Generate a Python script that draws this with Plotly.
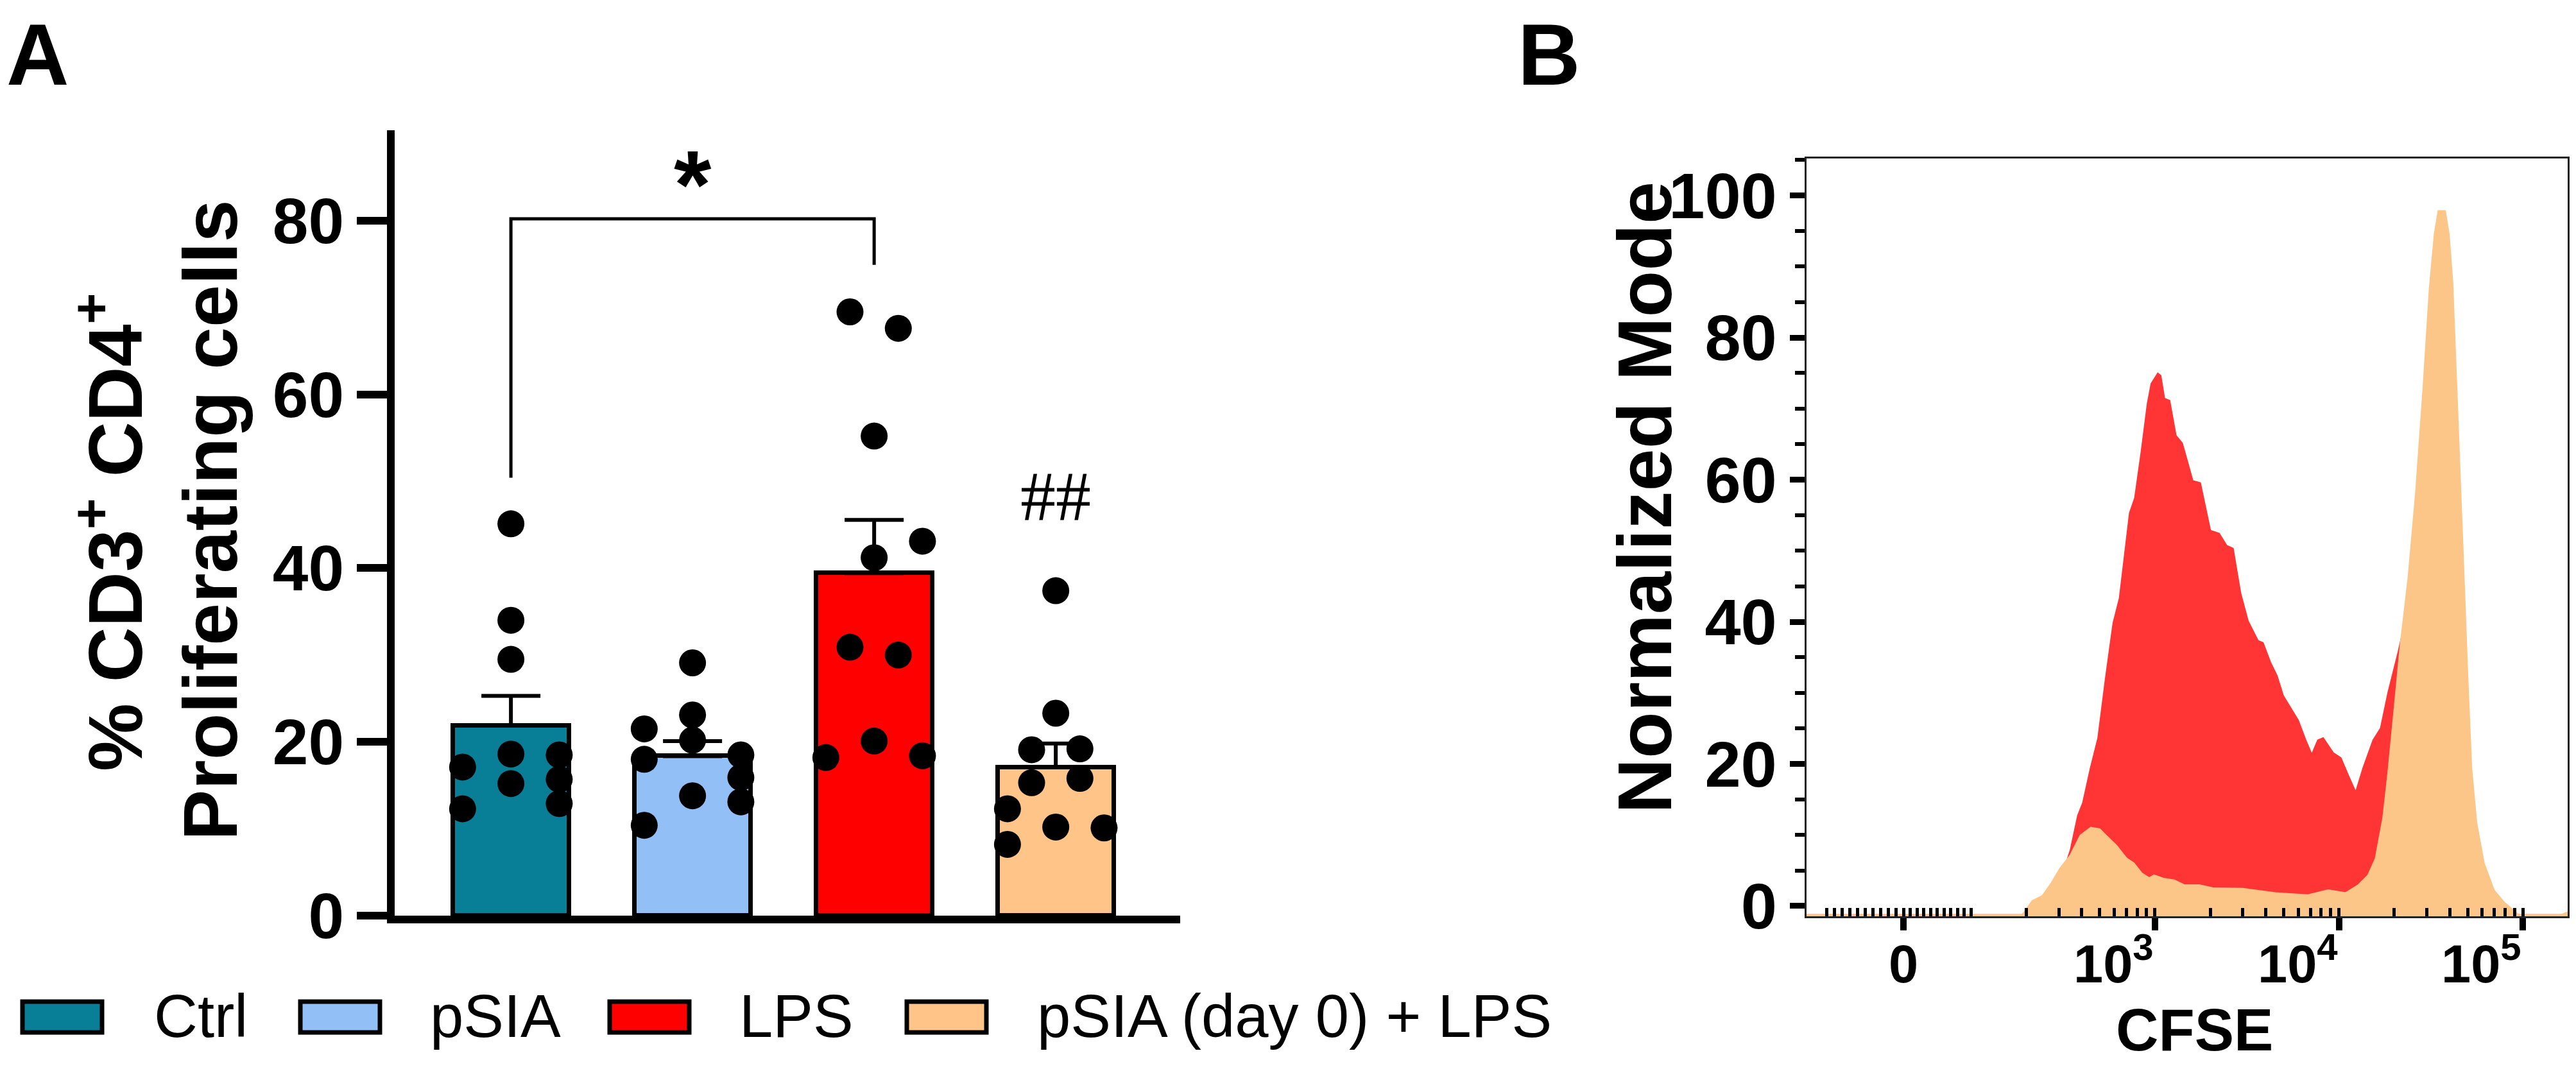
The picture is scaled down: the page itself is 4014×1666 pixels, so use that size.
import numpy as np
import plotly.graph_objects as go

# ---------------- panel A data (% CD3+ CD4+ proliferating cells) ----------------
CATEGORIES = ["Ctrl", "pSIA", "LPS", "pSIA (day 0) + LPS"]
BAR_COLORS = ["#087F96", "#93BFF7", "#FF0000", "#FEC488"]

ctrl = [45.1, 34.0, 29.5, 18.6, 15.2, 17.1, 12.3, 18.5, 15.7, 12.9]
psia = [29.1, 23.1, 20.2, 21.5, 18.0, 18.5, 15.9, 13.1, 13.8, 10.4]
lps = [69.5, 67.6, 55.2, 43.1, 41.2, 30.9, 30.0, 20.1, 18.2, 18.4]
psia_lps = [37.4, 23.3, 19.1, 19.2, 15.3, 15.8, 12.3, 10.2, 10.1, 8.2]
GROUPS = [ctrl, psia, lps, psia_lps]

# horizontal spread slot of every dot (prism style scatter), in steps of JIT_STEP
JITTER = [
    [0, 0, 0, 0, 0, -2, -2, 2, 2, 2],
    [0, 0, 0, -2, -2, 2, 2, 2, 0, -2],
    [-1, 1, 0, 2, 0, -1, 1, 0, -2, 2],
    [0, 0, -1, 1, -1, 1, -2, 0, 2, -2],
]
JIT_STEP = 0.133

Y_TICKS_A = [0, 20, 40, 60, 80]
BRACKET_X = [0, 0, 2, 2]          # Ctrl vs LPS
BRACKET_Y = [50.4, 80.2, 80.2, 74.9]
STAR_Y = 86.4
HASH_Y = 48.2

# ---------------- panel B data (CFSE histograms, normalized mode) ----------------
cfse_lps = [-150, 245, 297, 348, 382, 407, 448, 492, 541, 595, 644, 687, 731, 780,
            844, 914, 958, 1037, 1071, 1122, 1197, 1295, 1402, 1600, 1758, 1995,
            2227, 2446, 2648, 2909, 3193, 3622, 3855, 4238, 4584, 4958, 5446, 5986,
            6579, 7116, 7698, 8197, 9296, 10212, 11228, 12343, 13571, 15377, 16905,
            18551, 21027, 23496, 25500, 28000, 33000, 40000, 250000]
mode_lps = [-1.3, -1.3, 2.5, 7.8, 12.7, 14.5, 19.4, 23.6, 32.0, 39.8, 43.3, 49.6, 55.3,
            57.4, 63.7, 70.7, 73.5, 74.9, 74.6, 71.4, 71.1, 66.2, 65.1, 59.8, 59.5,
            52.8, 52.4, 50.7, 50.3, 44.0, 40.1, 37.3, 37.0, 34.2, 32.4, 29.6, 27.8,
            26.1, 23.3, 21.2, 23.3, 23.6, 21.5, 20.8, 18.3, 15.9, 19.4, 23.3, 25.0,
            30.0, 35.6, 41.2, 44.0, 30.0, 8.0, -1.3, -1.3]

cfse_combo = [-150, 190, 216, 245, 274, 306, 347, 394, 448, 500, 541, 615, 698, 767,
              844, 929, 989, 1122, 1274, 1447, 1749, 2056, 3000, 4508, 6792, 8730,
              10864, 12735, 14430, 15860, 17420, 18550, 20070, 21710, 23870, 26240,
              28790, 31170, 33180, 34780, 37660, 39470, 41340, 43350, 45420, 47620,
              49900, 52360, 55720, 61230, 69390, 78700, 95060, 160000, 180000, 250000]
mode_combo = [-1.3, -1.3, 0.7, 1.4, 3.2, 5.3, 7.1, 9.9, 11.0, 10.8, 9.9, 8.5, 6.7, 6.0,
              4.6, 3.9, 4.3, 3.8, 3.6, 2.9, 2.9, 2.5, 2.4, 1.8, 1.5, 2.2, 1.8, 2.9,
              4.3, 6.7, 12.4, 18.7, 27.8, 37.0, 46.1, 58.1, 72.8, 86.9, 94.6, 97.8,
              97.8, 94.6, 87.6, 74.2, 60.2, 46.1, 32.0, 19.4, 11.7, 6.0, 2.2, 0.5,
              -1.3, -1.3, -0.8, -0.8]

CFSE_LIMITS = [-125, 175000]
Y_RANGE_B = [-1.45, 105.2]
Y_TICKS_B = [0, 20, 40, 60, 80, 100]

# tick layout of the CFSE axis
LABELLED = [0, 1e3, 1e4, 1e5]
LABELS = ["0", "10<sup>3</sup>", "10<sup>4</sup>", "10<sup>5</sup>"]
LONG_UNLABELLED = [-100, 100]
MID_TICKS = [-50, 50, 500, 5e3, 5e4]
SMALL_TICKS = [s * k for s in (-1, 1) for k in (10, 20, 30, 40, 60, 70, 80, 90)]
for dec in (100, 1000, 10000):
    SMALL_TICKS += [dec * k for k in (2, 3, 4, 6, 7, 8, 9)]

RED_H = "#FF3434"
ORANGE_H = "#FDC689"

# target picture size; the page body adds an 8 px margin round the figure
W, H = 4014, 1666
OFF = 8
FIG_W, FIG_H = W - 2 * OFF, H - 2 * OFF
FONT = "Liberation Sans, Arial, sans-serif"

LIN = 0.366   # width of the linear zone (|x| <= 100) in decades
NEG = 1.14    # negative side is drawn a little wider


def biex(v):
    """FlowJo-like display transform: linear around zero, log10 above 100."""
    v = np.asarray(v, dtype=float)
    a = np.abs(v)
    out = np.where(a <= 100, a / 100 * LIN, LIN + np.log10(np.maximum(a, 100) / 100))
    return np.where(v < 0, -out * NEG, out)


def px(x):
    return (x - OFF) / FIG_W


def py(y):
    return 1 - (y - OFF) / FIG_H


fig = go.Figure()

# ---- panel A ----
means = [np.mean(g) for g in GROUPS]
sems = [np.std(g, ddof=1) / np.sqrt(len(g)) for g in GROUPS]

fig.add_trace(go.Bar(
    x=list(range(len(CATEGORIES))), y=means, width=0.64,
    marker=dict(color=BAR_COLORS, line=dict(color="black", width=7)),
    error_y=dict(type="data", symmetric=False, array=sems, arrayminus=[0] * 4,
                 color="black", thickness=6, width=46),
    xaxis="x", yaxis="y", showlegend=False,
))

for i, (g, jit) in enumerate(zip(GROUPS, JITTER)):
    fig.add_trace(go.Scatter(
        x=[i + j * JIT_STEP for j in jit], y=g, mode="markers",
        marker=dict(color="black", size=42),
        xaxis="x", yaxis="y", showlegend=False,
    ))

fig.add_trace(go.Scatter(
    x=BRACKET_X, y=BRACKET_Y, mode="lines",
    line=dict(color="black", width=5), xaxis="x", yaxis="y", showlegend=False,
))

# ---- panel B ----
for cf, md, col in [(cfse_lps, mode_lps, RED_H), (cfse_combo, mode_combo, ORANGE_H)]:
    xs = biex(cf)
    fig.add_trace(go.Scatter(
        x=xs, y=[Y_RANGE_B[0]] * len(xs), mode="lines", line=dict(width=0),
        xaxis="x2", yaxis="y2", showlegend=False, hoverinfo="skip",
    ))
    fig.add_trace(go.Scatter(
        x=xs, y=md, mode="lines", fill="tonexty", fillcolor=col,
        line=dict(color=col, width=3),
        xaxis="x2", yaxis="y2", showlegend=False,
    ))

x_range_b = list(biex(CFSE_LIMITS))
minor_b = SMALL_TICKS + MID_TICKS + LONG_UNLABELLED + LABELLED

axis_font_a = dict(family=FONT, size=100, color="black", weight="bold")
tick_only = dict(range=x_range_b, overlaying="x2", anchor="y2", side="bottom",
                 showline=False, showgrid=False, zeroline=False,
                 showticklabels=False, tickmode="array", ticks="outside",
                 tickcolor="black", automargin=False)

fig.update_layout(
    width=FIG_W, height=FIG_H,
    margin=dict(l=0, r=0, t=0, b=0, autoexpand=False),
    paper_bgcolor="white", plot_bgcolor="white",
    bargap=0,
    xaxis=dict(
        domain=[px(615), px(1839)], range=[-0.64, 3.685],
        showline=True, linewidth=12, linecolor="black",
        showticklabels=False, ticks="", showgrid=False, zeroline=False,
        anchor="y", automargin=False,
    ),
    yaxis=dict(
        domain=[py(1427), py(203)], range=[0, 90.4],
        showline=True, linewidth=12, linecolor="black",
        tickvals=Y_TICKS_A, ticks="outside", ticklen=47, tickwidth=12,
        tickcolor="black", tickfont=axis_font_a,
        showgrid=False, zeroline=False, anchor="x", automargin=False,
    ),
    xaxis2=dict(
        domain=[px(2815), px(4001)], range=x_range_b,
        showline=True, mirror=True, linewidth=3, linecolor="#222222",
        tickmode="array", tickvals=list(biex(LABELLED)), showticklabels=False,
        ticks="outside", ticklen=19, tickwidth=10, tickcolor="black",
        minor=dict(tickmode="array", tickvals=list(biex(minor_b)), ticks="inside",
                   ticklen=13, tickwidth=5, tickcolor="black"),
        showgrid=False, zeroline=False, anchor="y2", automargin=False,
    ),
    xaxis3=dict(tick_only, tickvals=list(biex(LONG_UNLABELLED)),
                ticklen=19, tickwidth=10),
    xaxis4=dict(tick_only, tickvals=list(biex(MID_TICKS)),
                ticklen=10, tickwidth=7),
    yaxis2=dict(
        domain=[py(1428), py(247)], range=Y_RANGE_B,
        showline=True, mirror=True, linewidth=3, linecolor="#222222",
        tickvals=Y_TICKS_B, ticks="outside", ticklen=23, tickwidth=9,
        tickcolor="black",
        tickfont=dict(family=FONT, size=101, color="black", weight="bold"),
        minor=dict(dtick=5, tick0=0, ticks="outside", ticklen=15, tickwidth=6,
                   tickcolor="black"),
        showgrid=False, zeroline=False, anchor="x2", automargin=False,
    ),
)

ann = []
bold = dict(family=FONT, color="black", weight="bold")
# panel letters
ann.append(dict(text="A", x=0, y=1, xref="paper", yref="paper",
                xanchor="left", yanchor="top", showarrow=False,
                font=dict(bold, size=135)))
ann.append(dict(text="B", x=px(2363), y=1, xref="paper", yref="paper",
                xanchor="left", yanchor="top", showarrow=False,
                font=dict(bold, size=135)))
# axis titles
ann.append(dict(text="% CD3<sup>+</sup> CD4<sup>+</sup>", textangle=-90,
                x=px(171), y=py(830), xref="paper", yref="paper",
                xanchor="center", yanchor="middle", showarrow=False,
                font=dict(bold, size=119)))
ann.append(dict(text="Proliferating cells", textangle=-90,
                x=px(327), y=py(811), xref="paper", yref="paper",
                xanchor="center", yanchor="middle", showarrow=False,
                font=dict(bold, size=119)))
ann.append(dict(text="Normalized Mode", textangle=-90,
                x=px(2562), y=py(776), xref="paper", yref="paper",
                xanchor="center", yanchor="middle", showarrow=False,
                font=dict(bold, size=119)))
ann.append(dict(text="CFSE", x=px(3419), y=0, xref="paper", yref="paper",
                xanchor="center", yanchor="bottom", showarrow=False,
                font=dict(bold, size=92)))
# CFSE tick labels: in the original the decade labels end at their tick
for val, lab in zip(LABELLED, LABELS):
    ann.append(dict(text=lab, x=float(biex(val)), y=py(1551), xref="x2", yref="paper",
                    xanchor="center" if val == 0 else "right", yanchor="bottom",
                    showarrow=False, font=dict(bold, size=83)))
# significance marks (the asterisk glyph sits high in its text box)
ann.append(dict(text="*", x=1, y=STAR_Y, xref="x", yref="y", showarrow=False,
                xanchor="center", yanchor="middle", yshift=-31,
                font=dict(bold, size=150)))
ann.append(dict(text="##", x=3, y=HASH_Y, xref="x", yref="y", showarrow=False,
                xanchor="center", yanchor="middle",
                font=dict(family="Liberation Serif, Times New Roman, serif",
                          size=110, color="black")))

# legend (large swatches like the original)
LEG_SWATCH_X = [31, 464, 946, 1409]
LEG_TEXT_X = [243, 673, 1155, 1619]
shapes = []
for name, col, sx, tx in zip(CATEGORIES, BAR_COLORS, LEG_SWATCH_X, LEG_TEXT_X):
    shapes.append(dict(type="rect", xref="paper", yref="paper",
                       x0=px(sx + 4), x1=px(sx + 128), y0=py(1609), y1=py(1561),
                       fillcolor=col, line=dict(color="black", width=7)))
    ann.append(dict(text=name, x=px(tx - 5), y=py(1583), xref="paper", yref="paper",
                    xanchor="left", yanchor="middle", showarrow=False,
                    font=dict(family=FONT, size=94, color="black")))

fig.update_layout(annotations=ann, shapes=shapes)

fig.write_html("out.html")
